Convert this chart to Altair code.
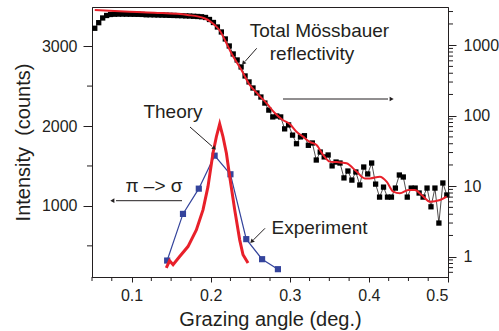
import altair as alt
import pandas as pd

FONT = "Liberation Sans"
RED = "#e8202a"
BLUE = "#34449c"
INK = "#231f20"

# ---------------- data ----------------
# Total Mössbauer reflectivity (right, log axis)
refl_x = [0.0535, 0.0585, 0.0635, 0.0685, 0.0735, 0.0785, 0.0835, 0.0885, 0.0935, 0.0985,
          0.1035, 0.1085, 0.1135, 0.1185, 0.1235, 0.1285, 0.1335, 0.1385, 0.1435, 0.1485,
          0.1535, 0.1585, 0.1635, 0.1685, 0.1735, 0.1785, 0.1835, 0.1885, 0.1935, 0.1985,
          0.2035, 0.2085, 0.2135, 0.2185, 0.2235, 0.2285, 0.2335, 0.2385, 0.2435, 0.2485,
          0.2535, 0.2585, 0.2635, 0.2685, 0.2735, 0.2785, 0.2835, 0.2885, 0.2935, 0.2985,
          0.3035, 0.3085, 0.3135, 0.3185, 0.3235, 0.3285, 0.3335, 0.3385, 0.3435, 0.3485,
          0.3535, 0.3585, 0.3635, 0.3685, 0.3735, 0.3785, 0.3835, 0.3885, 0.3935, 0.3985,
          0.4035, 0.4085, 0.4135, 0.4185, 0.4235, 0.4285, 0.4335, 0.4385, 0.4435, 0.4485,
          0.4535, 0.4585, 0.4635, 0.4685, 0.4735, 0.4785, 0.4835, 0.4885, 0.4935, 0.4985]
refl_y = [1738, 2085, 2432, 2637, 2726, 2750, 2760, 2760, 2755, 2750,
          2745, 2740, 2730, 2700, 2700, 2690, 2680, 2670, 2660, 2650,
          2640, 2630, 2620, 2600, 2590, 2570, 2553, 2530, 2472, 2315,
          2099, 1812, 1539, 1225, 974, 750, 617, 491, 366, 301,
          247, 210, 184, 151, 120, 96, 99, 96, 65, 74,
          53, 40, 50, 52, 38, 41, 23.5, 30.5, 26, 27.7,
          19.4, 22, 21.3, 13.1, 16.4, 12.2, 15.9, 10.4, 18.7, 14.9,
          21.3, 10.7, 7.0, 9.7, 7.0, 7.0, 9.4, 14.4, 13.5, 7.0,
          9.4, 9.4, 8.0, 7.0, 9.4, 5.1, 9.4, 3.0, 11.1, 7.5]

# fitted reflectivity (thin red, right axis)
fit_x = [0.0535, 0.0911, 0.1287, 0.1709, 0.192, 0.200, 0.205, 0.211, 0.219, 0.2262,
         0.2389, 0.2494, 0.2595, 0.2705, 0.281, 0.2911, 0.300, 0.3085, 0.3168, 0.3253,
         0.3338, 0.3422, 0.3506, 0.3591, 0.3718, 0.3844, 0.3949, 0.4013, 0.4139, 0.4224,
         0.4308, 0.4392, 0.4498, 0.4582, 0.4667, 0.4772, 0.4899, 0.4984]
fit_y = [3157, 3006, 2890, 2682, 2409, 2154, 1935, 1643, 1121, 767,
         445, 273, 203, 151, 109, 86.9, 76.3, 59.3, 50.4, 42.4,
         38.4, 27.7, 22.3, 22.0, 21.1, 16.1, 12.9, 12.9, 13.6, 11.6,
         8.36, 7.93, 8.83, 8.83, 7.5, 6.03, 6.37, 7.1]

# pi -> sigma experiment (blue, left axis)
exp_x = [0.145, 0.165, 0.185, 0.205, 0.225, 0.245, 0.265, 0.285]
exp_y = [316, 900, 1216, 1629, 1396, 584, 333, 208]

# pi -> sigma theory (thick red, left axis)
theory_x = [0.1439, 0.1481, 0.1525, 0.1608, 0.1713, 0.1819, 0.1903, 0.1966, 0.2029,
            0.2072, 0.2114, 0.2156, 0.2199, 0.2241, 0.2304, 0.2367, 0.2409, 0.2472]
theory_y = [225, 313, 263, 366, 491, 700, 950, 1241, 1659,
            1866, 2025, 1866, 1659, 1366, 950, 575, 388, 284]

# axis tick values
x_major = [0.1, 0.2, 0.3, 0.4, 0.5]
x_minor = [0.05, 0.075, 0.125, 0.15, 0.175, 0.225, 0.25, 0.275, 0.325, 0.35,
           0.375, 0.425, 0.45, 0.475]
left_major = [1000, 2000, 3000]
left_minor = [500, 1500, 2500]
right_major = [1, 10, 100, 1000]
right_minor = [0.6, 0.7, 0.8, 0.9, 2, 3, 4, 5, 6, 7, 8, 9, 20, 30, 40, 50, 60, 70, 80, 90,
               200, 300, 400, 500, 600, 700, 800, 900, 2000, 3000]

W, H = 356, 270

# ---------------- scales / axes ----------------
xs = alt.Scale(domain=[0.05, 0.5], nice=False, zero=False)
yl = alt.Scale(domain=[110, 3490], nice=False, zero=False)
yr = alt.Scale(type="log", domain=[0.515, 3480], nice=False)

x_axis = alt.Axis(values=x_major, format=".1f", tickSize=5, labelFontSize=16,
                  labelPadding=5, title="Grazing angle (deg.)", titleFontSize=20,
                  titleFontWeight="normal", titlePadding=6, grid=False,
                  labelFont=FONT, titleFont=FONT, labelColor=INK, titleColor=INK,
                  domainColor=INK, tickColor=INK)
yl_axis = alt.Axis(values=left_major, format="d", tickSize=9, labelFontSize=16,
                   labelPadding=6, title="Intensity \u00a0(counts)", titleFontSize=20,
                   titleFontWeight="normal", titlePadding=8, grid=False, orient="left",
                   labelFont=FONT, titleFont=FONT, labelColor=INK, titleColor=INK,
                   domainColor=INK, tickColor=INK)
yr_axis = alt.Axis(values=right_major, format="d", tickSize=8, labelFontSize=16,
                   labelPadding=7, title="", grid=False, orient="right",
                   labelFont=FONT, labelColor=INK, domainColor=INK, tickColor=INK)

df_refl = pd.DataFrame({"x": refl_x, "y": refl_y})
df_fit = pd.DataFrame({"x": fit_x, "y": fit_y})
df_exp = pd.DataFrame({"x": exp_x, "y": exp_y})
df_th = pd.DataFrame({"x": theory_x, "y": theory_y})

X = alt.X("x:Q", scale=xs, axis=x_axis)
YL = alt.Y("y:Q", scale=yl, axis=yl_axis)
YR = alt.Y("y:Q", scale=yr, axis=yr_axis)


def px(v):
    return alt.value(v)


# ---------------- left group (linear axis) ----------------
exp_line = alt.Chart(df_exp).mark_line(color=BLUE, strokeWidth=1.2).encode(x=X, y=YL)
exp_pts = alt.Chart(df_exp).mark_point(shape="square", filled=True, color=BLUE,
                                       size=38, opacity=1).encode(x=X, y=YL)
th_line = alt.Chart(df_th).mark_line(color=RED, strokeWidth=3).encode(x=X, y=YL)

# minor ticks share the same scale and axis definitions (identical axes merge)
x_minor_ticks = alt.Chart(pd.DataFrame({"x": x_minor, "y": [1000] * len(x_minor)})).mark_rule(
    color=INK, strokeWidth=1).encode(x=X, y=px(H), y2=px(H + 4))
left_minor_ticks = alt.Chart(pd.DataFrame({"y": left_minor})).mark_rule(
    color=INK, strokeWidth=1).encode(y=YL, x=px(0), x2=px(-5))

left = alt.layer(exp_line, exp_pts, th_line, x_minor_ticks, left_minor_ticks)

# ---------------- right group (log axis) ----------------
refl_line = alt.Chart(df_refl).mark_line(color=INK, strokeWidth=0.8).encode(x=X, y=YR)
refl_pts = alt.Chart(df_refl).mark_point(shape="square", filled=True, color="black",
                                         size=28, opacity=1).encode(x=X, y=YR)
fit_line = alt.Chart(df_fit).mark_line(color=RED, strokeWidth=2,
                                       interpolate="monotone").encode(x=X, y=YR)
right_minor_ticks = alt.Chart(pd.DataFrame({"y": right_minor})).mark_rule(
    color=INK, strokeWidth=1).encode(y=YR, x=px(W), x2=px(W + 5))

right = alt.layer(refl_line, refl_pts, fit_line, right_minor_ticks)


# ---------------- annotations (pixel overlays) ----------------
def label(text, cx, by, size=19):
    return alt.Chart(pd.DataFrame({"t": [text]})).mark_text(
        font=FONT, fontSize=size, color=INK, align="center", baseline="alphabetic"
    ).encode(text="t:N", x=px(cx - 92), y=px(by - 7))


def seg(x1, y1, x2, y2):
    return alt.Chart(pd.DataFrame({"a": [0]})).mark_rule(color=INK, strokeWidth=1).encode(
        x=px(x1 - 92), y=px(y1 - 7), x2=px(x2 - 92), y2=px(y2 - 7))


def head(hx, hy, ang):
    return alt.Chart(pd.DataFrame({"a": [0]})).mark_point(
        shape="triangle", filled=True, color=INK, size=22, angle=ang, opacity=1
    ).encode(x=px(hx - 92), y=px(hy - 7))


overlays = [
    label("Total Mössbauer", 319.5, 36.7),
    label("reflectivity", 312, 60),
    label("Theory", 173, 118.3),
    label("π –> σ", 154, 192),
    label("Experiment", 319.5, 234),
    seg(256.7, 48.3, 245.0, 61.5), head(243.8, 62.8, 222),
    seg(190, 127, 212, 146.3), head(213.8, 147.8, 131),
    seg(265, 228.3, 253.5, 239.8), head(252.2, 241.1, 225),
    seg(283, 99, 388, 99), head(391, 99, 90),
    seg(182, 200.7, 116, 200.7), head(113, 200.7, 270),
]

main = alt.layer(left, right).resolve_scale(y="independent")

chart = alt.layer(main, *overlays).properties(
    width=W, height=H,
    background="white",
    autosize=alt.AutoSizeParams(type="none"),
    padding={"left": 92, "top": 7, "right": 499 - 92 - W, "bottom": 331 - 7 - H},
).configure_view(stroke=INK, strokeWidth=1)

chart.save("out.html", embed_options={"renderer": "svg", "actions": False})
